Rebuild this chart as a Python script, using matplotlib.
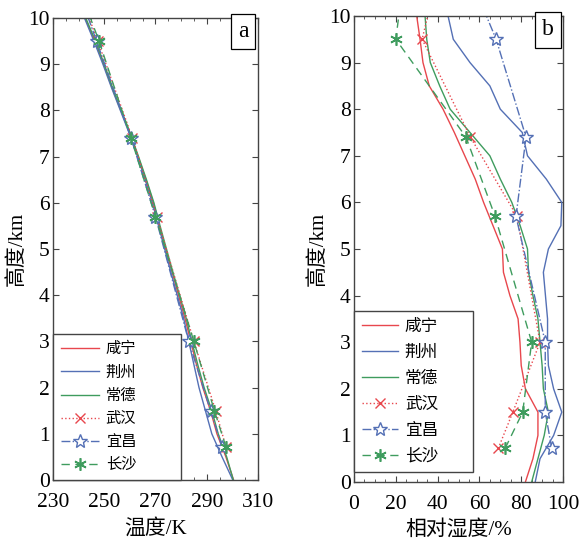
import matplotlib
matplotlib.use("Agg")
import matplotlib.pyplot as plt
from matplotlib.ticker import MultipleLocator

plt.rcParams['font.family'] = ['Liberation Serif', 'Noto Sans CJK SC']

# reanalysis heights (km)
z_re = [0, 0.5, 1, 1.5, 2, 2.5, 3, 3.5, 4, 4.5, 5, 5.5, 6, 6.5, 7, 7.5, 8, 8.5, 9, 9.5, 10]
# sounding heights (km), last level is above the plot top
z_snd = [0.72, 1.5, 3.0, 5.7, 7.4, 9.5, 10.9]

# temperature (K)
t_xianning = [300.5, 297.5, 294, 291.5, 288.5, 286, 283.8, 281.5, 279, 276.5, 274, 271.5, 269.2, 266.3, 263.2, 260, 256.5, 253, 249.8, 246.3, 242.6]
t_jingzhou = [300.2, 296, 292, 289.5, 287, 285, 283, 281, 278.5, 276, 273.6, 271.2, 268.8, 266, 263, 259.8, 256.3, 252.8, 249.5, 246, 242.3]
t_changde = [300.4, 297.8, 294.5, 292, 289, 286.5, 284.2, 282, 279.4, 276.8, 274.3, 271.8, 269.4, 266.5, 263.4, 260.2, 256.7, 253.2, 250, 246.6, 242.8]
t_wuhan = [297.5, 293.5, 285, 270.5, 261, 247.5, 238]
t_yichang = [296, 291.5, 283, 270, 260.5, 247, 238]
t_changsha = [297.5, 293, 285, 270, 260.5, 248, 238.5]

# relative humidity (%)
rh_xianning = [82, 85.6, 88, 88, 82, 80, 79.4, 78.5, 74.6, 71.5, 71, 66.5, 62, 58, 53, 48, 42.6, 36, 33, 31.6, 30]
rh_jingzhou = [86.7, 89, 95.5, 99.4, 95.5, 93, 92.6, 92.6, 91.6, 90.6, 93, 99, 99.4, 92, 83, 80.5, 70, 65, 55.5, 47.5, 45]
rh_changde = [85, 88, 91, 93, 90.6, 90, 89, 88, 85.6, 83.5, 83, 79.5, 75.5, 70, 65, 55.5, 46, 41, 36.5, 34.8, 34]
rh_wuhan = [69, 76, 89, 78, 55.7, 32.6, 40]
rh_yichang = [94.6, 91.5, 91.5, 77.5, 82.3, 68, 55]
rh_changsha = [72.3, 80.7, 85, 67.5, 53.6, 20, 24]

names = ['咸宁', '荆州', '常德', '武汉', '宜昌', '长沙']
temp_ticks = [230, 250, 270, 290, 310]
rh_ticks = [0, 20, 40, 60, 80, 100]

red = '#e8474d'
blue = '#5470b5'
green = '#3f9c5e'
edge = '#444444'

fig = plt.figure(figsize=(5.79, 5.40), dpi=100)
ax1 = fig.add_axes([0.0915, 0.111, 0.354, 0.8556])
ax2 = fig.add_axes([0.6114, 0.1074, 0.361, 0.863])


def draw(ax, a, b, c, d, e, f):
    ax.plot(a, z_re, color=red, lw=1.0, label=names[0])
    ax.plot(b, z_re, color=blue, lw=1.0, label=names[1])
    ax.plot(c, z_re, color=green, lw=1.0, label=names[2])
    ax.plot(d, z_snd, color=red, lw=1.0, ls=':', marker='x', ms=7, label=names[3])
    ax.plot(e, z_snd, color=blue, lw=1.0, ls='-.', marker='*', ms=10, mfc='white', mec=blue, label=names[4])
    ax.plot(f, z_snd, color=green, lw=1.0, ls=(0, (6, 4)), marker=(6, 2, 0), ms=9, mew=1.2, label=names[5])


draw(ax1, t_xianning, t_jingzhou, t_changde, t_wuhan, t_yichang, t_changsha)
draw(ax2, rh_xianning, rh_jingzhou, rh_changde, rh_wuhan, rh_yichang, rh_changsha)

ax1.set_xlim(230, 310)
ax1.set_xticks(temp_ticks)
ax1.xaxis.set_minor_locator(MultipleLocator(5))
ax2.set_xlim(0, 100)
ax2.set_xticks(rh_ticks)
ax2.xaxis.set_minor_locator(MultipleLocator(5))

for ax, lab, xl in [(ax1, 'a', '温度/K'), (ax2, 'b', '相对湿度/%')]:
    ax.set_ylim(0, 10)
    ax.yaxis.set_major_locator(MultipleLocator(1))
    ax.tick_params(which='both', direction='in', top=True, right=True, labelsize=15.5, color=edge)
    ax.tick_params(which='major', length=4)
    ax.tick_params(which='minor', length=2.5)
    ax.tick_params(axis='x', pad=9)
    ax.tick_params(axis='y', pad=2.5)
    for s in ax.spines.values():
        s.set_color(edge)
        s.set_linewidth(1.0)
    ax.set_xlabel(xl, fontsize=15, labelpad=5)
    ax.set_ylabel('高度/km', fontsize=15, labelpad=1)
    ax.text(0.927, 0.97, lab, transform=ax.transAxes, ha='center', va='center', fontsize=17,
            bbox=dict(boxstyle='square,pad=0.3', fc='white', ec='black', lw=0.9))

leg1 = ax1.legend(loc='lower left', bbox_to_anchor=(0, 0, 0.625, 0.3), mode='expand', borderaxespad=0,
                  fontsize=11, handlelength=2.5, handletextpad=0.45, borderpad=0.5,
                  labelspacing=0.6, fancybox=False, edgecolor=edge, framealpha=1)
leg2 = ax2.legend(loc='lower left', bbox_to_anchor=(0, 0.021, 0.57, 0.3), mode='expand', borderaxespad=0,
                  fontsize=12, handlelength=2.2, handletextpad=0.4, borderpad=0.45,
                  labelspacing=0.6, fancybox=False, edgecolor=edge, framealpha=1)
for leg in (leg1, leg2):
    leg.get_frame().set_linewidth(1.0)

fig.savefig('out.png', dpi=100)
